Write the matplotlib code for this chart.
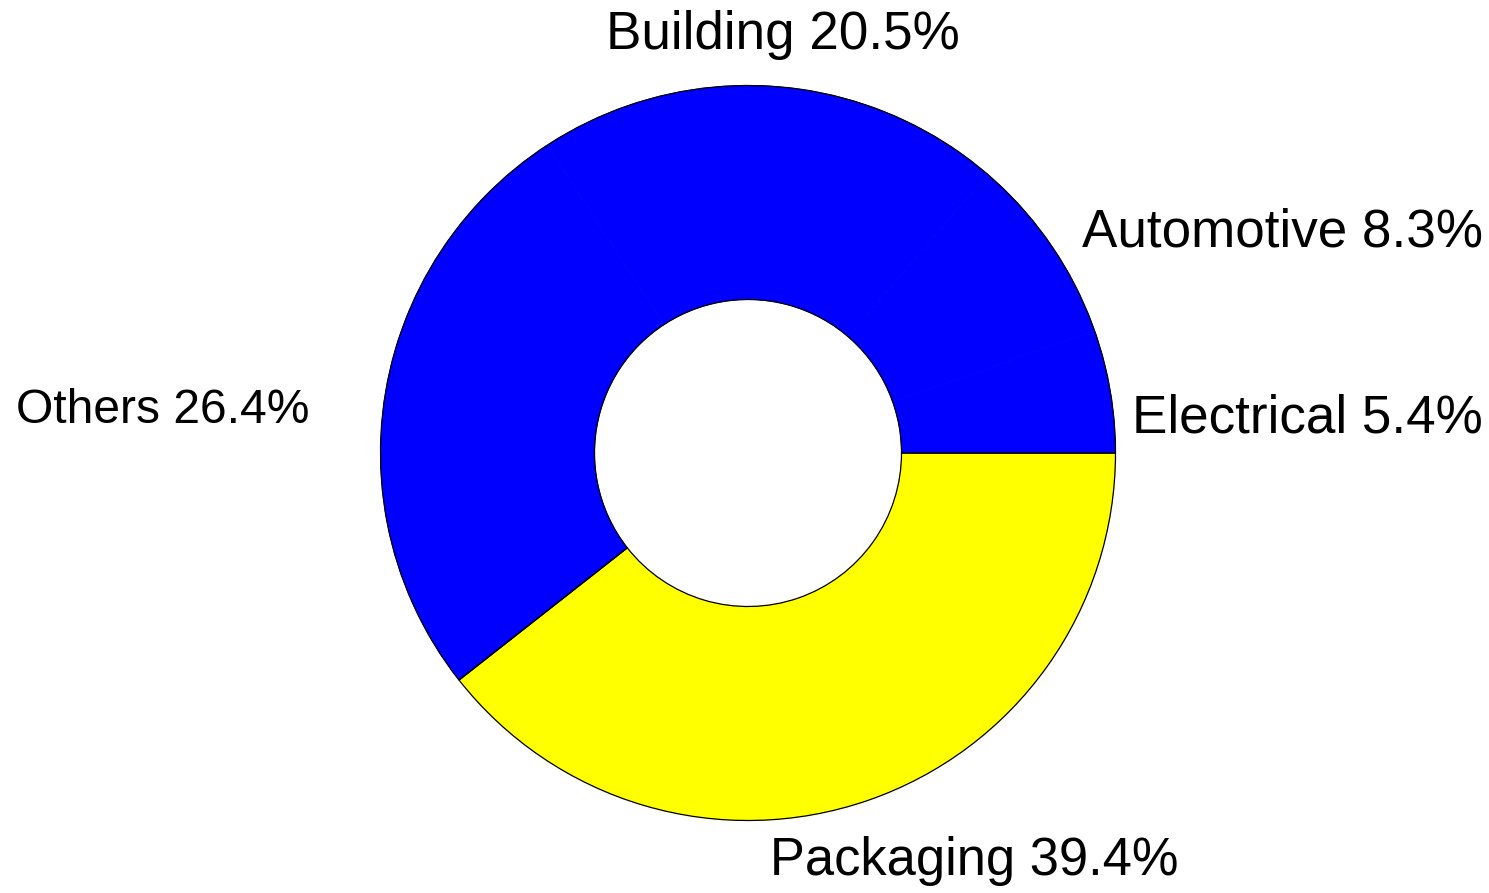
import matplotlib
matplotlib.use("Agg")
import matplotlib.pyplot as plt

plt.rcParams['font.family'] = ['Liberation Sans', 'DejaVu Sans']

# Market share by end-use sector (%)
sectors = ["Packaging", "Others", "Building", "Automotive", "Electrical"]
shares = [39.4, 26.4, 20.5, 8.3, 5.4]
colors = ["#ffff00", "#0000ff", "#0000ff", "#0000ff", "#0000ff"]

# Label anchors (left edge, baseline) in units of the outer radius, and sizes
label_pos = [(0.060, -1.148), (-1.992, 0.082), (-0.386, 1.099),
             (0.909, 0.561), (1.045, 0.057)]
label_size = [37.8, 34.6, 38.2, 38.2, 38.2]

W, H = 1489, 893
fig = plt.figure(figsize=(W / 100, H / 100), dpi=100)
ax = fig.add_axes([0, 0, 1, 1])

R_PX = 367.5
CX, CY = 748, 453
ring = 1 - 153.5 / R_PX

wedges, _ = ax.pie(shares, colors=colors, startangle=0, counterclock=False,
                   radius=1, wedgeprops=dict(width=ring, linewidth=0.6))
for w in wedges:
    w.set_edgecolor(w.get_facecolor())

# Outline: only the boundary between the highlighted sector and the rest
rest = sum(shares[1:])
ax.pie([shares[0], rest], colors=["none", "none"], startangle=0,
       counterclock=False, radius=1,
       wedgeprops=dict(width=ring, edgecolor="black", linewidth=0.9))

for name, val, (x, y), fs in zip(sectors, shares, label_pos, label_size):
    ax.text(x, y, f"{name} {val:.1f}%", ha="left", va="baseline",
            fontsize=fs, color="black")

ax.set_xlim(-CX / R_PX, (W - CX) / R_PX)
ax.set_ylim(-(H - CY) / R_PX, CY / R_PX)
ax.set_aspect("auto")
ax.axis("off")

fig.savefig("out.png", dpi=100, facecolor="white")
